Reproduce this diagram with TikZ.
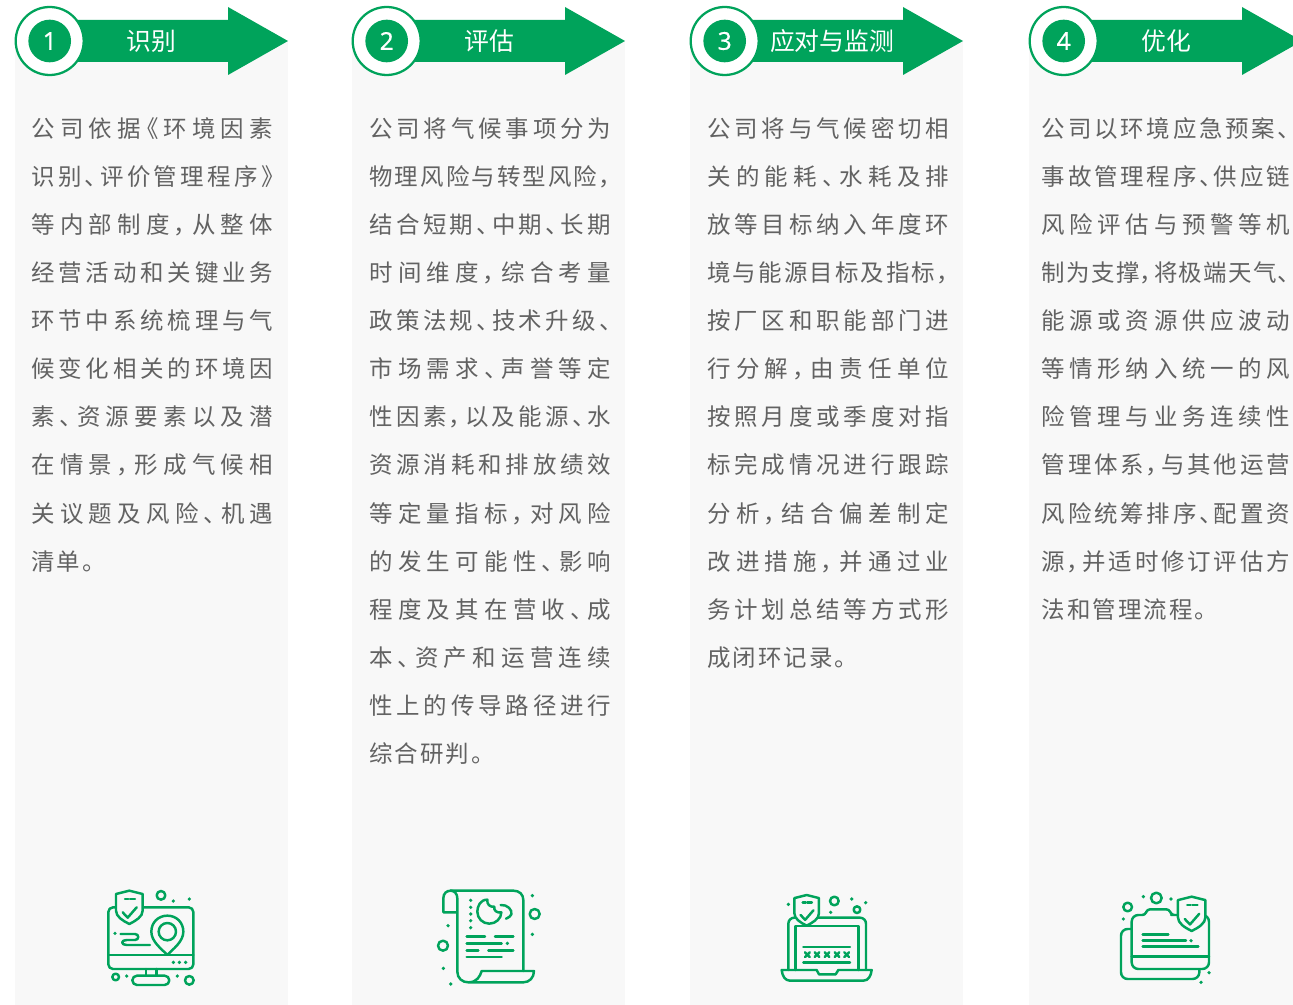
\documentclass[tikz,border=0pt]{standalone}
\usepackage{fontspec}
\newfontfamily\cjk[RawFeature={+palt}]{Noto Sans CJK SC}
\newfontfamily\numf[FakeBold=0.4]{Noto Sans}
\definecolor{brand}{HTML}{00A35B}
\definecolor{panelc}{HTML}{F8F8F8}
\definecolor{bodyc}{HTML}{626262}
\makeatletter
\newlength\linew
\newif\iffirstch
\def\jlinea#1{\hbox to \linew{\firstchtrue\@tfor\nx:=#1\do{\iffirstch\firstchfalse\else\hfil\fi\nx}}}
\def\jline#1{\expandafter\jlinea\expandafter{#1}}
\def\nlinea#1{\hbox{\firstchtrue\@tfor\nx:=#1\do{\iffirstch\firstchfalse\else\kern1.5pt\fi\nx}}}
\makeatother
\tikzset{
 linetext/.style={anchor=base west,inner sep=0pt,text=bodyc,font=\cjk\fontsize{17.6pt}{20pt}\selectfont},
 panelbox/.style={fill=panelc,draw=none},
 arrowbody/.style={fill=brand,draw=none},
 numring/.style={circle,draw=brand,line width=1.7pt,fill=white,minimum size=51pt,inner sep=0pt},
 numdot/.style={circle,fill=brand,text=white,minimum size=32pt,inner sep=0pt,font=\numf\fontsize{18.5pt}{20pt}\selectfont},
 headtext/.style={text=white,inner sep=0pt,font=\cjk\fontsize{18.6pt}{20pt}\selectfont},
 ic/.style={draw=brand,line width=1.85pt,line cap=round,line join=round},
 icd/.style={fill=brand,draw=none},
}
% shield: x, y of the top point, scale
\newcommand{\shieldic}[3]{\begin{scope}[shift={(#1,#2)},scale=#3]
 \path[ic,fill=panelc] (0,0) -- (-40,10) -- (-40,60) .. controls (-40,78) and (-20,90) .. (0,100) .. controls (20,90) and (40,78) .. (40,60) -- (40,10) -- cycle;
 \draw[ic] (-20,65) -- (-5,81) -- (22,50);
 \draw[ic] (-13,25) -- (-3,25) (2,25) -- (17,25);
\end{scope}}
\newcommand{\dotsic}[1]{\foreach \a/\b in {#1}{\fill[icd] (\a,\b) circle[radius=5.5];}}
\newcommand{\ringsic}[1]{\foreach \a/\b/\r in {#1}{\draw[ic] (\a,\b) circle[radius=\r];}}
\newcommand{\headerrow}[5]{
 \fill[panelbox] (#1,41) rectangle ++(273,964);
 \fill[arrowbody] (#1+30,20) -- (#1+213,20) -- (#1+213,7) -- (#1+273,41) -- (#1+213,75) -- (#1+213,62) -- (#1+30,62) -- cycle;
 \node[numring] (ring#2) at (#1+34.7,41) {};
 \node[numdot] (num#2) at (ring#2.center) {#3};
 \node[headtext] (title#2) at (#4,41) {#5};
}
\begin{document}
\begin{tikzpicture}[x=.75pt,y=-.75pt]
\useasboundingbox (0,0) rectangle (1293,1005);
\fill[white] (0,0) rectangle (1293,1005);
\begin{scope}
\clip (0,0) rectangle (1293,1005);
\headerrow{15}{a}{1}{151}{识别}
\headerrow{352}{b}{2}{489}{评估}
\headerrow{690}{c}{3}{832}{应对与监测}
\headerrow{1029}{d}{4}{1166}{优化}
\end{scope}
% column 1
\setlength\linew{181.5pt}
\foreach \t [count=\i] in {公司依据《环境因素,识别、评价管理程序》,等内部制度，从整体,经营活动和关键业务,环节中系统梳理与气,候变化相关的环境因,素、资源要素以及潜,在情景，形成气候相,关议题及风险、机遇}
 \node[linetext] (ca\i) at (31,{137.4+48.08*(\i-1)}) {\jline{\t}};
\node[linetext] (ca10) at (31,{137.4+48.08*9}) {\nlinea{清单。}};
% column 2
\foreach \t [count=\i] in {公司将气候事项分为,物理风险与转型风险，,结合短期、中期、长期,时间维度，综合考量,政策法规、技术升级、,市场需求、声誉等定,性因素，以及能源、水,资源消耗和排放绩效,等定量指标，对风险,的发生可能性、影响,程度及其在营收、成,本、资产和运营连续,性上的传导路径进行}
 \node[linetext] (cb\i) at (369,{137.4+48.08*(\i-1)}) {\jline{\t}};
\node[linetext] (cb14) at (369,{137.4+48.08*13}) {\nlinea{综合研判。}};
% column 3
\foreach \t [count=\i] in {公司将与气候密切相,关的能耗、水耗及排,放等目标纳入年度环,境与能源目标及指标，,按厂区和职能部门进,行分解，由责任单位,按照月度或季度对指,标完成情况进行跟踪,分析，结合偏差制定,改进措施，并通过业,务计划总结等方式形}
 \node[linetext] (cc\i) at (707,{137.4+48.08*(\i-1)}) {\jline{\t}};
\node[linetext] (cc12) at (707,{137.4+48.08*11}) {\nlinea{成闭环记录。}};
% column 4
\setlength\linew{186pt}
\foreach \t [count=\i] in {公司以环境应急预案、,事故管理程序、供应链,风险评估与预警等机,制为支撑，将极端天气、,能源或资源供应波动,等情形纳入统一的风,险管理与业务连续性,管理体系，与其他运营,风险统筹排序、配置资,源，并适时修订评估方}
 \node[linetext] (cd\i) at (1041.5,{137.4+48.08*(\i-1)}) {\jline{\t}};
\node[linetext] (cd11) at (1041.5,{137.4+48.08*10}) {\nlinea{法和管理流程。}};
% icon 1
\begin{scope}[shift={(90,875)},x=.25pt,y=-.25pt]
 \draw[ic,rounded corners=3.5pt] (55,282) rectangle (310,97);
 \draw[ic] (55,240) -- (310,240) (168,282) -- (168,302) (200,282) -- (200,302);
 \draw[ic,rounded corners=3.5pt] (127,302) rectangle (238,330);
 \shieldic{118}{47}{1}
 \draw[ic,fill=panelc] (232,240) .. controls (215,222) and (184,200) .. (184,170) .. controls (184,142) and (205,122) .. (232,122) .. controls (259,122) and (280,142) .. (280,170) .. controls (280,200) and (249,222) .. (232,240) -- cycle;
 \draw[ic] (232,170) circle[radius=26];
 \draw[ic] (92,177) -- (135,177) .. controls (148,177) and (148,195) .. (135,195) -- (110,195) .. controls (92,195) and (92,210) .. (110,210) -- (180,210);
 \dotsic{250/78,298/72,75/175,250/262,268/262,287/262,110/303,262/303}
 \ringsic{213/61/13,77/306/10,298/316/13}
\end{scope}
% icon 2
\begin{scope}[shift={(430,875)},x=.25pt,y=-.25pt]
 \draw[ic] (62,47) -- (250,47) .. controls (268,47) and (280,58) .. (280,75) -- (280,288);
 \draw[ic] (82,112) -- (40,112) -- (40,70) .. controls (40,55) and (50,47) .. (62,47) .. controls (74,47) and (82,57) .. (82,70) -- (82,290) .. controls (82,310) and (97,322) .. (115,322) -- (280,322) .. controls (298,322) and (312,308) .. (312,288) -- (155,288) .. controls (150,305) and (140,322) .. (115,322);
 \draw[ic] (172,74) .. controls (150,74) and (142,95) .. (142,110) .. controls (142,130) and (158,146) .. (178,146) .. controls (198,146) and (214,130) .. (214,112) .. controls (200,115) and (190,105) .. (193,95) .. controls (180,97) and (170,88) .. (172,74) -- cycle;
 \draw[ic] (212,90) .. controls (232,88) and (248,105) .. (244,118) .. controls (242,124) and (236,128) .. (228,131);
 \draw[ic] (110,184) -- (165,184) (195,184) -- (250,184) (110,205) -- (215,205) (110,226) -- (145,226) (175,226) -- (250,226) (110,246) -- (215,246);
 \dotsic{122/76,122/97,122/117,122/137,122/158,232/205,307/62,307/178,54/152,40/280,62/327}
 \ringsic{314/117/15,39/212/15}
\end{scope}
% icon 3
\begin{scope}[shift={(770,880)},x=.25pt,y=-.25pt]
 \draw[ic,rounded corners=4.5pt] (55,270) -- (55,113) -- (288,113) -- (288,270);
 \draw[ic] (77,270) -- (77,138) -- (265,138) -- (265,270);
 \shieldic{110}{45}{.92}
 \draw[ic] (100,201) -- (240,201) (100,247) -- (240,247);
 \foreach \c in {112,141,171,201,230} \draw[ic] (\c-7,217) -- (\c+7,231) (\c+7,217) -- (\c-7,231);
 \draw[ic] (140,270) -- (147,283) -- (197,283) -- (205,270) -- (305,270) .. controls (303,288) and (295,302) .. (280,302) -- (60,302) .. controls (45,302) and (37,288) .. (35,270) -- cycle;
 \dotsic{55/73,182/97,245/57,287/68}
 \ringsic{193/63/13,261/89/10}
\end{scope}
% icon 4
\begin{scope}[shift={(1105,880)},x=.25pt,y=-.25pt]
 \draw[ic,rounded corners=5pt] (80,147) -- (48,147) -- (48,297) -- (283,297) -- (283,267);
 \draw[ic,fill=panelc,rounded corners=2pt] (218,105) -- (200,105) -- (192,88) -- (127,88) -- (120,105) [rounded corners=5pt] -- (80,105) -- (80,267) -- (312,267) -- (312,105) -- cycle;
 \draw[ic] (80,230) -- (312,230);
 \draw[ic] (113,163) -- (190,163) (113,182) -- (243,182) (113,200) -- (280,200);
 \shieldic{260}{50}{1.03}
 \dotsic{258/182,115/50,198/57,55/117,312/278,288/307}
 \ringsic{154/54/16,68/81/13}
\end{scope}
\end{tikzpicture}
\end{document}
